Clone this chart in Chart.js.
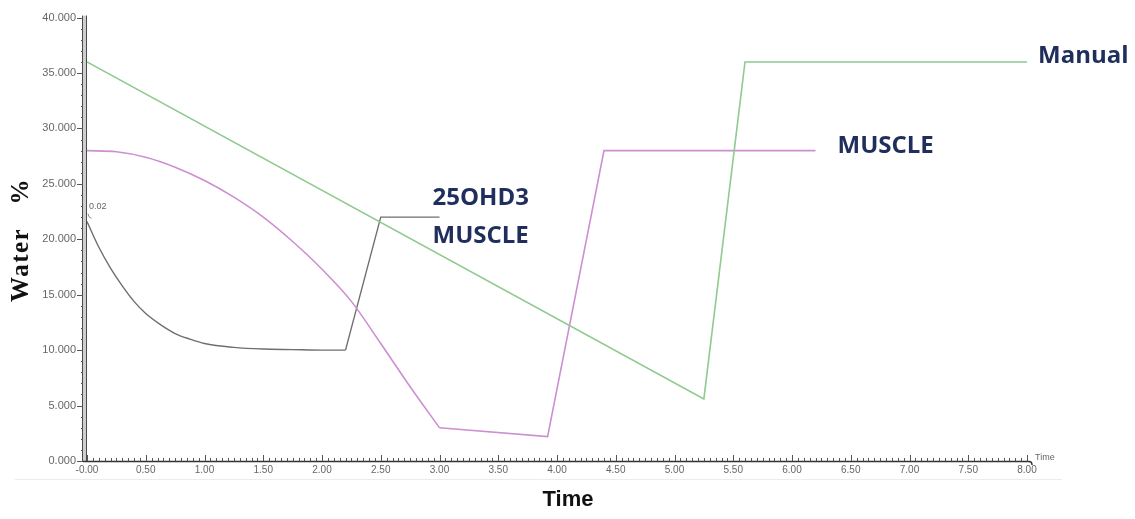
<!DOCTYPE html>
<html>
<head>
<meta charset="utf-8">
<script src="https://cdn.jsdelivr.net/npm/chart.js@4"></script>
<style>
  html, body { margin: 0; padding: 0; background: #fff; }
  #wrap { width: 1135px; height: 519px; position: relative; }
</style>
</head>
<body>
<div id="wrap"><canvas id="waterChart" width="1135" height="519"></canvas></div>
<script>
// values (time in the x unit, water in %)
const manualTime = [0, 5.25, 5.6, 8.0];
const manualWater = [36.0, 5.6, 36.0, 36.0];

const muscleTime = [0, 0.25, 0.5, 0.75, 1.0, 1.25, 1.5, 1.75, 2.0, 2.25, 2.5, 2.75, 3.0, 3.92, 4.4, 6.2];
const muscleWater = [28.0, 27.9, 27.4, 26.5, 25.3, 23.8, 22.0, 19.8, 17.3, 14.4, 10.6, 6.7, 3.0, 2.2, 28.0, 28.0];
const muscleCurveEnd = 12; // index where the smooth part stops

const ohdTime = [0, 0.1, 0.2, 0.3, 0.4, 0.5, 0.625, 0.75, 0.875, 1.0, 1.25, 1.5, 1.75, 2.0, 2.2, 2.5, 3.0];
const ohdWater = [21.6, 19.3, 17.4, 15.8, 14.4, 13.3, 12.3, 11.5, 11.0, 10.6, 10.25, 10.1, 10.05, 10.0, 10.0, 22.0, 22.0];
const ohdCurveEnd = 14;

const xTickValues = [0, 0.5, 1, 1.5, 2, 2.5, 3, 3.5, 4, 4.5, 5, 5.5, 6, 6.5, 7, 7.5, 8];
const yTickValues = [0, 5, 10, 15, 20, 25, 30, 35, 40];

const seriesLabels = ['Manual', 'MUSCLE', ['25OHD3', 'MUSCLE']];
const startNote = '0.02';

function pairs(xs, ys, from, to) {
	const out = [];
	for (let i = from; i <= to; i++) out.push({x: xs[i], y: ys[i]});
	return out;
}

const labelColor = '#1f2e5c';
const greenCol = '#8fca8f';
const pinkCol = '#cc8fd0';
const grayCol = '#6f6f6f';

// axis look, minor ticks, end labels
const decor = {
	id: 'decor',
	afterDraw(chart) {
		const ctx = chart.ctx;
		const xs = chart.scales.x;
		const ys = chart.scales.y;
		const x0 = xs.getPixelForValue(0);
		const y0 = ys.getPixelForValue(0);
		const yTop = ys.getPixelForValue(40);
		const xEnd = xs.getPixelForValue(8);
		ctx.save();

		// faint line under the x labels
		ctx.strokeStyle = '#ececec';
		ctx.lineWidth = 1;
		ctx.beginPath();
		ctx.moveTo(15, y0 + 18.5);
		ctx.lineTo(xEnd + 35, y0 + 18.5);
		ctx.stroke();

		// y axis double bar
		ctx.fillStyle = '#cfcfcf';
		ctx.fillRect(x0 - 4, yTop - 2, 4, y0 - yTop + 3);
		ctx.strokeStyle = '#4a4a4a';
		ctx.lineWidth = 1;
		ctx.beginPath();
		ctx.moveTo(x0 - 4.5, yTop - 2); ctx.lineTo(x0 - 4.5, y0 + 1);
		ctx.moveTo(x0 - 0.5, yTop - 2); ctx.lineTo(x0 - 0.5, y0 + 1);
		ctx.stroke();

		// y ticks
		ctx.strokeStyle = '#555';
		ctx.beginPath();
		for (let v = 0; v <= 40; v += 1) {
			const py = Math.round(ys.getPixelForValue(v)) + 0.5;
			const len = (v % 5 === 0) ? 6 : 2;
			ctx.moveTo(x0 - 4 - len, py);
			ctx.lineTo(x0 - 4, py);
		}
		ctx.stroke();

		// x axis line + ticks
		ctx.strokeStyle = '#333';
		ctx.lineWidth = 1.5;
		ctx.beginPath();
		ctx.moveTo(x0 - 4, y0 + 0.5);
		ctx.lineTo(xEnd + 2, y0 + 0.5);
		ctx.quadraticCurveTo(xEnd + 5, y0 + 0.5, xEnd + 5, y0 + 4);
		ctx.stroke();
		ctx.lineWidth = 1;
		ctx.strokeStyle = '#555';
		ctx.beginPath();
		for (let i = 0; i <= 160; i++) {
			const px = Math.round(xs.getPixelForValue(i * 0.05)) + 0.5;
			const len = (i % 10 === 0) ? 6 : 3;
			ctx.moveTo(px, y0);
			ctx.lineTo(px, y0 - len);
		}
		ctx.stroke();

		// small axis name at the end of x axis
		ctx.fillStyle = '#666';
		ctx.font = '9px "Liberation Sans", Arial, sans-serif';
		ctx.textAlign = 'left';
		ctx.textBaseline = 'middle';
		ctx.fillText('Time', xEnd + 8, y0 - 3);

		// start note on gray curve
		const nx = xs.getPixelForValue(ohdTime[0]);
		const ny = ys.getPixelForValue(ohdWater[0]);
		ctx.fillText(startNote, nx + 2, ny - 15);
		ctx.strokeStyle = '#888';
		ctx.beginPath();
		ctx.arc(nx + 6, ny - 8, 5, Math.PI * 0.6, Math.PI * 1.0);
		ctx.stroke();

		// series end labels
		ctx.fillStyle = labelColor;
		ctx.font = 'bold 24px "Open Sans", Lato, sans-serif';
		ctx.textBaseline = 'middle';
		const mEnd = manualTime.length - 1;
		ctx.fillText(seriesLabels[0], xs.getPixelForValue(manualTime[mEnd]) + 11, ys.getPixelForValue(manualWater[mEnd]) - 6);
		const uEnd = muscleTime.length - 1;
		ctx.fillText(seriesLabels[1], xs.getPixelForValue(muscleTime[uEnd]) + 22, ys.getPixelForValue(muscleWater[uEnd]) - 4);
		const oEnd = ohdTime.length - 1;
		const ox = xs.getPixelForValue(ohdTime[oEnd]) - 7;
		const oy = ys.getPixelForValue(ohdWater[oEnd]);
		ctx.fillText(seriesLabels[2][0], ox, oy - 19);
		ctx.fillText(seriesLabels[2][1], ox, oy + 19);

		// axis titles
		ctx.fillStyle = '#111';
		ctx.font = 'bold 22px "Liberation Sans", Arial, sans-serif';
		ctx.textAlign = 'center';
		ctx.fillText('Time', 568, 500);

		ctx.save();
		ctx.translate(22, 240);
		ctx.rotate(-Math.PI / 2);
		ctx.font = 'bold 25px "Liberation Serif", "Times New Roman", serif';
		ctx.letterSpacing = '1.5px';
		ctx.fillText('Water   %', 0, 0);
		ctx.restore();

		ctx.restore();
	}
};

function line(label, points, color, width, smooth) {
	return {
		label: label,
		data: points,
		borderColor: color,
		borderWidth: width,
		pointRadius: 0,
		tension: smooth ? 0.4 : 0,
		cubicInterpolationMode: smooth ? 'monotone' : 'default',
		fill: false
	};
}

const data = {
	datasets: [
		line('Manual', pairs(manualTime, manualWater, 0, manualTime.length - 1), greenCol, 1.6, false),
		line('MUSCLE', pairs(muscleTime, muscleWater, 0, muscleCurveEnd), pinkCol, 1.6, true),
		line('MUSCLE', pairs(muscleTime, muscleWater, muscleCurveEnd, muscleTime.length - 1), pinkCol, 1.6, false),
		line('25OHD3 MUSCLE', pairs(ohdTime, ohdWater, 0, ohdCurveEnd), grayCol, 1.4, true),
		line('25OHD3 MUSCLE', pairs(ohdTime, ohdWater, ohdCurveEnd, ohdTime.length - 1), grayCol, 1.4, false)
	]
};

const config = {
	type: 'line',
	data,
	options: {
		responsive: false,
		animation: false,
		layout: {padding: {top: 17, right: 108, left: 0, bottom: 0}},
		plugins: {legend: {display: false}, tooltip: {enabled: false}},
		scales: {
			x: {
				type: 'linear',
				min: 0,
				max: 8,
				afterFit: (s) => { s.height = 58; },
				afterBuildTicks: (s) => { s.ticks = xTickValues.map(v => ({value: v})); },
				grid: {display: false, drawTicks: false},
				border: {display: false},
				ticks: {
					padding: 3,
					maxRotation: 0,
					autoSkip: false,
					color: '#666',
					font: {size: 10, family: '"Liberation Sans", Arial, sans-serif'},
					callback: (v) => v === 0 ? '-0.00' : Number(v).toFixed(2)
				}
			},
			y: {
				min: 0,
				max: 40,
				afterFit: (s) => { s.width = 87; },
				afterBuildTicks: (s) => { s.ticks = yTickValues.map(v => ({value: v})); },
				grid: {display: false, drawTicks: false},
				border: {display: false},
				ticks: {
					padding: 11,
					color: '#666',
					font: {size: 11, family: '"Liberation Sans", Arial, sans-serif'},
					callback: (v) => Number(v).toFixed(3)
				}
			}
		}
	},
	plugins: [decor]
};

new Chart(document.getElementById('waterChart'), config);
</script>
</body>
</html>
